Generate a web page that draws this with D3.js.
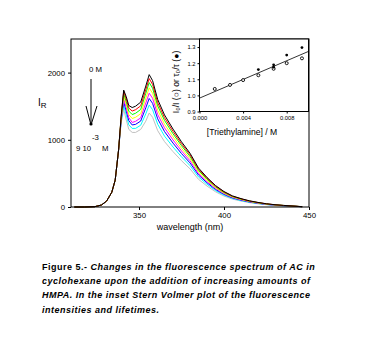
<!DOCTYPE html>
<html><head><meta charset="utf-8">
<script src="https://cdn.jsdelivr.net/npm/d3@7"></script>
<style>body{margin:0;background:#fff}svg{display:block}</style>
</head><body>
<script>
// ---- data ----
const wavelengths = [312,318,324,328,331,334,336,338,339.5,341,342.5,344,346,348,351,354,356,358,361,365,370,375,380,385,390,395,400,405,410,415,420,425,430,435,440,446];
const seriesNames = ["0 M","s1","s2","s3","s4","s5","s6","9e-3 M"];
const seriesColors = ["#000000","#ff0000","#00ff00","#ffff00","#ff00ff","#0000ff","#00ffff","#c0c0c0"];
const sBlack  = [0,0,5,30,90,220,400,850,1350,1740,1640,1510,1480,1500,1560,1800,1970,1880,1600,1370,1160,970,800,580,440,320,230,165,125,92,68,48,34,24,16,5];
const sRed    = [0,0,5,30,90,220,400,850,1340,1723,1607,1472,1428,1448,1505,1746,1911,1824,1552,1329,1125,941,776,563,427,310,223,160,121,89,66,47,33,23,15,5];
const sLime   = [0,0,5,30,90,220,400,850,1330,1688,1566,1427,1376,1395,1451,1692,1852,1767,1504,1288,1090,912,752,545,414,301,216,155,118,86,64,45,32,23,15,5];
const sYellow = [0,0,5,30,90,220,400,850,1320,1653,1525,1374,1317,1335,1388,1620,1773,1692,1440,1233,1044,873,720,522,396,288,207,149,113,83,61,43,31,22,14,4];
const sMagenta= [0,0,5,30,90,220,400,850,1300,1610,1476,1329,1258,1275,1326,1548,1694,1617,1376,1178,998,834,688,499,378,275,198,142,108,79,58,41,29,21,14,4];
const sBlue   = [0,0,5,30,90,220,400,850,1290,1566,1427,1284,1221,1230,1279,1476,1615,1542,1312,1123,951,795,656,476,361,262,189,135,103,75,56,39,28,20,13,4];
const sCyan   = [0,0,5,30,90,220,400,850,1270,1514,1369,1223,1169,1170,1217,1386,1517,1448,1232,1055,893,747,616,447,339,246,177,127,96,71,52,37,26,18,12,4];
const sSilver = [0,0,5,30,90,220,400,850,1250,1453,1296,1155,1110,1110,1154,1278,1399,1335,1136,973,824,689,568,412,312,227,163,117,89,65,48,34,24,17,11,4];
const spectra = [sBlack,sRed,sLime,sYellow,sMagenta,sBlue,sCyan,sSilver];

const xTicks = [350,400,450];
const yTicks = [0,1000,2000];

// inset (Stern-Volmer)
const svIntX = [0.0014,0.0028,0.0040,0.0054,0.0068,0.0080,0.0094];
const svIntY = [1.040,1.065,1.095,1.125,1.165,1.200,1.230];
const svTauX = [0.0054,0.0068,0.0068,0.0080,0.0094];
const svTauY = [1.160,1.175,1.190,1.250,1.297];
const fitX = [0.000,0.010];
const fitY = [0.983,1.273];
const insetXTicks = [0.000,0.004,0.008];
const insetYTicks = [0.9,1.0,1.1,1.2,1.3];

const captionLines = [
  [["Figure 5.- ",false],["Changes in the fluorescence spectrum of AC in",true]],
  [["cyclohexane upon the addition of increasing amounts of",true]],
  [["HMPA. In the inset Stern Volmer plot of the fluorescence",true]],
  [["intensities and lifetimes.",true]]
];

// ---- drawing ----
const W = 367, H = 340;
const svg = d3.select("body").append("svg").attr("width",W).attr("height",H)
  .style("font-family","'Liberation Sans', Arial, sans-serif");

const x = d3.scaleLinear().domain([310,450]).range([71,309]);
const y = d3.scaleLinear().domain([0,2500]).range([207,39]);

// curves (lowest drawn first so black is on top)
const line = d3.line().x((d,i)=>x(wavelengths[i])).y(d=>y(d));
for (let k = spectra.length-1; k >= 0; k--) {
  svg.append("path").attr("d", line(spectra[k]))
    .attr("fill","none").attr("stroke",seriesColors[k]).attr("stroke-width",1);
}

// frame
svg.append("rect").attr("x",71).attr("y",39).attr("width",238).attr("height",168)
  .attr("fill","none").attr("stroke","#000").attr("stroke-width",1);

const xAxis = svg.append("g").attr("transform","translate(0,207)")
  .call(d3.axisBottom(x).tickValues(xTicks).tickSize(3).tickPadding(2).tickFormat(d3.format("d")));
const yAxis = svg.append("g").attr("transform","translate(71,0)")
  .call(d3.axisLeft(y).tickValues(yTicks).tickSize(3).tickPadding(3).tickFormat(d3.format("d")));
[xAxis,yAxis].forEach(a=>{
  a.select(".domain").remove();
  a.selectAll("text").attr("font-size",7.8).attr("font-family","'Liberation Sans', Arial, sans-serif").attr("fill","#000");
  a.selectAll("line").attr("stroke","#000");
});

svg.append("text").attr("x",190).attr("y",230).attr("text-anchor","middle")
  .attr("font-size",9).text("wavelength (nm)");
const ir = svg.append("text").attr("x",38).attr("y",106).attr("font-size",10);
ir.append("tspan").text("I");
ir.append("tspan").attr("font-size",8).attr("dy",2).text("R");

// arrow and concentration labels
svg.append("text").attr("x",89).attr("y",72).attr("font-size",7.8).text("0 M");
svg.append("line").attr("x1",91).attr("y1",79).attr("x2",91).attr("y2",125).attr("stroke","#000");
svg.append("line").attr("x1",86).attr("y1",106).attr("x2",91).attr("y2",125).attr("stroke","#000");
svg.append("line").attr("x1",97).attr("y1",106).attr("x2",91).attr("y2",125).attr("stroke","#000");
svg.append("circle").attr("cx",91).attr("cy",124).attr("r",1.6).attr("fill","#000");
svg.append("text").attr("x",76).attr("y",151).attr("font-size",7.8).text("9 10");
svg.append("text").attr("x",92).attr("y",140).attr("font-size",7.8).text("-3");
svg.append("text").attr("x",102).attr("y",151).attr("font-size",7.8).text("M");

// inset
const ix = d3.scaleLinear().domain([0,0.010]).range([199.5,308.5]);
const iy = d3.scaleLinear().domain([0.9,1.35]).range([111.5,39]);
svg.append("rect").attr("x",199.5).attr("y",39).attr("width",109).attr("height",72.5)
  .attr("fill","#fff").attr("stroke","#000").attr("stroke-width",1);
svg.append("path").attr("d", d3.line().x((d,i)=>ix(fitX[i])).y(d=>iy(d))(fitY))
  .attr("stroke","#000").attr("fill","none").attr("stroke-width",0.8);
svg.selectAll(".int").data(svIntX).enter().append("circle")
  .attr("cx",(d)=>ix(d)).attr("cy",(d,i)=>iy(svIntY[i])).attr("r",1.5)
  .attr("fill","#fff").attr("stroke","#000").attr("stroke-width",0.9);
svg.selectAll(".tau").data(svTauX).enter().append("circle")
  .attr("cx",(d)=>ix(d)).attr("cy",(d,i)=>iy(svTauY[i])).attr("r",1.4).attr("fill","#000");

const ixA = svg.append("g").attr("transform","translate(0,111.5)")
  .call(d3.axisBottom(ix).tickValues(insetXTicks).tickSize(2).tickPadding(2).tickFormat(d3.format(".3f")));
const iyA = svg.append("g").attr("transform","translate(199.5,0)")
  .call(d3.axisLeft(iy).tickValues(insetYTicks).tickSize(2).tickPadding(2).tickFormat(d3.format(".1f")));
[ixA,iyA].forEach(a=>{
  a.select(".domain").remove();
  a.selectAll("text").attr("font-size",5.8).attr("font-family","'Liberation Sans', Arial, sans-serif").attr("fill","#000");
  a.selectAll("line").attr("stroke","#000");
});
svg.append("text").attr("x",242).attr("y",135).attr("text-anchor","middle")
  .attr("font-size",8.6).text("[Triethylamine] / M");
svg.append("text").attr("transform","translate(179,82) rotate(-90)").attr("text-anchor","middle")
  .attr("font-size",8.6).text("I\u2080/I (\u25CB) or \u03C4\u2080/\u03C4 (\u25CF)");

// caption
captionLines.forEach((ln,i)=>{
  const t = svg.append("text").attr("x",42).attr("y",270+i*14.2)
    .attr("font-size",9).attr("font-weight","bold").attr("letter-spacing",0.5);
  ln.forEach(([s,it])=>t.append("tspan").attr("font-style",it?"italic":"normal").text(s));
});
</script>
</body></html>
